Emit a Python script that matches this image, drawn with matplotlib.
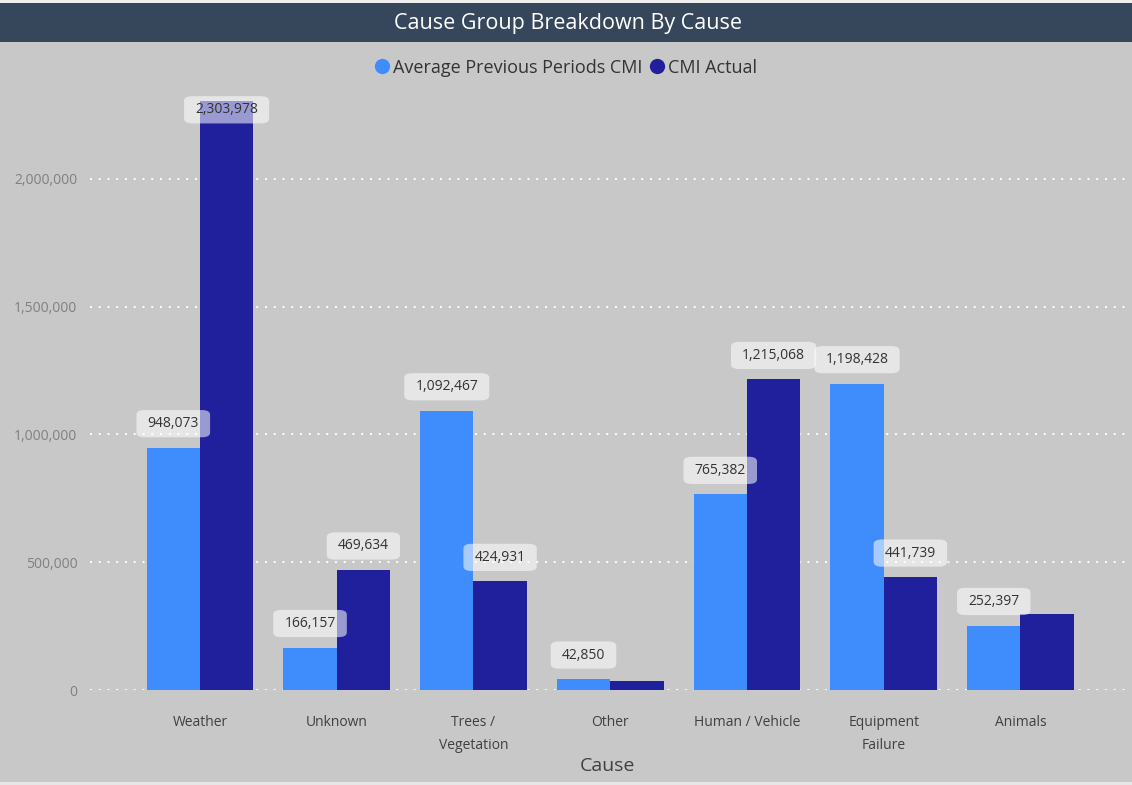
import matplotlib
matplotlib.use("Agg")
import matplotlib.pyplot as plt
from matplotlib.patches import Rectangle
from matplotlib.lines import Line2D
from matplotlib.ticker import FuncFormatter
import numpy as np

causes = ["Weather", "Unknown", "Trees /\nVegetation", "Other",
          "Human / Vehicle", "Equipment\nFailure", "Animals"]
avg_prev_cmi = [948073, 166157, 1092467, 42850, 765382, 1198428, 252397]
cmi_actual = [2303978, 469634, 424931, 35000, 1215068, 441739, 298000]
# which bars carry a value label
avg_labeled = [True, True, True, True, True, True, True]
act_labeled = [True, True, True, False, True, True, False]
y_ticks = [0, 500000, 1000000, 1500000, 2000000]

LIGHT = "#3f8cfc"
DARK = "#21209c"
BG = "#c8c8c8"

plt.rcParams["font.family"] = ["Open Sans", "DejaVu Sans"]

fig = plt.figure(figsize=(11.32, 7.85), dpi=100, facecolor=BG)

# header band
fig.patches.append(Rectangle((0, 0.996), 1, 0.004, transform=fig.transFigure,
                             facecolor="#eeeeee", edgecolor="none", zorder=0))
fig.patches.append(Rectangle((0, 0.947), 1, 0.049, transform=fig.transFigure,
                             facecolor="#36475b", edgecolor="none", zorder=1))
fig.patches.append(Rectangle((0, 0.0), 1, 0.004, transform=fig.transFigure,
                             facecolor="#e6e6e6", edgecolor="none", zorder=0))
fig.text(0.502, 0.970, "Cause Group Breakdown By Cause", color="white",
         fontsize=15.5, ha="center", va="center")

ax = fig.add_axes([0.0795, 0.121, 0.914, 0.7554])
ax.set_facecolor(BG)
for s in ax.spines.values():
    s.set_visible(False)

x = np.arange(len(causes))
w = 0.39
ax.bar(x - w / 2, avg_prev_cmi, w, color=LIGHT, zorder=3)
ax.bar(x + w / 2, cmi_actual, w, color=DARK, zorder=3)

ytop = 2.32e6
ax.set_ylim(0, ytop)
ax.set_xlim(-0.804, 6.762)
ax.set_yticks(y_ticks)
ax.yaxis.set_major_formatter(FuncFormatter(lambda v, p: f"{int(v):,}"))
ax.tick_params(axis="y", length=0, pad=9, labelsize=10, labelcolor="#808080")
ax.tick_params(axis="x", length=0, pad=18, labelsize=10, labelcolor="#404040")
ax.set_xticks(x)
ax.set_xticklabels(causes, linespacing=1.75)
ax.grid(axis="y", color="white", linestyle=(0, (1, 3.5)), linewidth=1.4, zorder=1)
ax.set_axisbelow(True)
ax.set_xlabel("Cause", fontsize=14, color="#404040", labelpad=3)

off = 0.094e6
cap = ytop - 0.05e6
box = dict(boxstyle="round,pad=0.8,rounding_size=0.6", facecolor="white",
           edgecolor="none", alpha=0.55, mutation_aspect=0.55)


def label(xpos, val):
    ax.text(xpos, min(val + off, cap), f"{val:,}", ha="center", va="center",
            fontsize=10, color="#333333", bbox=box, zorder=5)


for i in range(len(causes)):
    if avg_labeled[i]:
        label(x[i] - w / 2, avg_prev_cmi[i])
    if act_labeled[i]:
        label(x[i] + w / 2, cmi_actual[i])

handles = [Line2D([], [], marker="o", linestyle="none", markersize=11,
                  markerfacecolor=c, markeredgecolor="none") for c in (LIGHT, DARK)]
fig.legend(handles, ["Average Previous Periods CMI", "CMI Actual"],
           loc="center", bbox_to_anchor=(0.499, 0.914), ncol=2, frameon=False,
           labelcolor="#333333", handletextpad=0.1,
           columnspacing=0.3, handlelength=1.0,
           prop={"size": 13})

fig.savefig("out.png", dpi=100, facecolor=BG)
